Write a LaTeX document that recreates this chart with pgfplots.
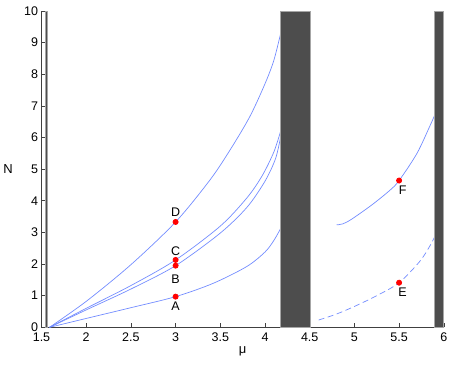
\documentclass[border=0pt]{standalone}
\usepackage{fontspec}
\setmainfont{Liberation Sans}
\usepackage{pgfplots}
\pgfplotsset{compat=1.18}
\usetikzlibrary{calc}
\definecolor{curve}{rgb}{0.45,0.55,1}
\definecolor{barc}{HTML}{4D4D4D}
\definecolor{axc}{HTML}{404040}
\begin{document}
\fontsize{12.5bp}{14bp}\selectfont
\begin{tikzpicture}[font=\fontsize{12.5bp}{14bp}\selectfont]
\begin{axis}[name=ax, at={(0,0)}, anchor=south west, scale only axis,
  width=402.3bp, height=316.3bp,
  xmin=1.5, xmax=6, ymin=0, ymax=10,
  axis x line*=bottom, axis y line*=left,
  axis line style={axc, line width=0.8bp},
  xtick={1.5,2,2.5,3,3.5,4,4.5,5,5.5,6},
  ytick={0,1,2,3,4,5,6,7,8,9,10},
  tick align=inside, major tick length=4bp,
  tick style={axc, line width=0.6bp},
  /pgf/number format/assume math mode=true,
  tick label style={font=\fontsize{12.5bp}{14bp}\selectfont},
  xticklabel style={yshift=-1.5bp},
  yticklabel style={xshift=1bp},
  xlabel={μ}, ylabel={N},
  xlabel style={at={(axis description cs:0.5,0)}, anchor=center, yshift=-24.5bp, font=\fontsize{13bp}{14bp}\selectfont},
  ylabel style={at={(axis description cs:0,0.5)}, anchor=center, rotate=-90, xshift=-33.5bp, font=\fontsize{13bp}{14bp}\selectfont},
  every axis plot/.append style={line width=0.7bp},
]
% D
\addplot[curve, smooth, tension=0.5] coordinates {(1.59,0)(2.0,0.82)(2.5,1.98)(3.0,3.33)(3.385,4.66)(3.61,5.61)(3.83,6.66)(4.0,7.7)(4.1,8.45)(4.18,9.35)};
% C
\addplot[curve, smooth, tension=0.5] coordinates {(1.59,0)(2.0,0.6)(2.5,1.32)(3.0,2.13)(3.5,3.2)(3.8,4.1)(3.97,4.8)(4.1,5.55)(4.18,6.25)};
% B
\addplot[curve, smooth, tension=0.5] coordinates {(1.59,0)(2.0,0.55)(2.5,1.21)(3.0,1.95)(3.5,2.98)(3.8,3.8)(4.0,4.62)(4.12,5.35)(4.18,6.1)};
% A
\addplot[curve, smooth, tension=0.5] coordinates {(1.59,0)(2.0,0.28)(2.5,0.62)(3.0,0.97)(3.42,1.39)(3.795,1.92)(4.0,2.38)(4.1,2.75)(4.18,3.15)};
% F
\addplot[curve, smooth, tension=0.5] coordinates {(4.80,3.24)(4.87,3.27)(4.97,3.42)(5.2,3.88)(5.4,4.34)(5.5,4.64)(5.7,5.5)(5.85,6.4)(5.92,6.85)};
% E
\addplot[curve, smooth, tension=0.5, dash pattern=on 6bp off 3.5bp] coordinates {(4.6,0.23)(4.8,0.42)(5.0,0.66)(5.25,1.0)(5.5,1.41)(5.73,2.08)(5.85,2.6)(5.93,3.05)};
% points
\addplot[only marks, mark=*, mark size=2.6bp, red, mark options={draw=red, fill=red}] coordinates {(3,3.33)(3,2.13)(3,1.95)(3,0.97)(5.5,4.64)(5.5,1.41)};
% bars
\addplot[fill=barc, draw=gray!70, line width=0.8bp] coordinates {(1.54,0)(1.57,0)(1.57,10)(1.54,10)} -- cycle;
\addplot[fill=barc, draw=gray!70, line width=0.8bp] coordinates {(4.175,0)(4.507,0)(4.507,10)(4.175,10)} -- cycle;
\addplot[fill=barc, draw=gray!70, line width=0.8bp] coordinates {(5.90,0)(6.0,0)(6.0,10)(5.90,10)} -- cycle;
% labels
\node[anchor=center] at (axis cs:3,3.33) [yshift=10bp] {D};
\node[anchor=center] at (axis cs:3,2.13) [yshift=9bp] {C};
\node[anchor=center] at (axis cs:3,1.95) [yshift=-13.5bp] {B};
\node[anchor=center] at (axis cs:3,0.97) [yshift=-10bp] {A};
\node[anchor=center] at (axis cs:5.5,4.64) [xshift=3.5bp, yshift=-10bp] {F};
\node[anchor=center] at (axis cs:5.5,1.41) [xshift=3.5bp, yshift=-9bp] {E};
\end{axis}
\pgfresetboundingbox
\path ($(ax.south west)+(-41.5bp,-36.7bp)$) rectangle ($(ax.north east)+(6.2bp,11bp)$);
\end{tikzpicture}
\end{document}
